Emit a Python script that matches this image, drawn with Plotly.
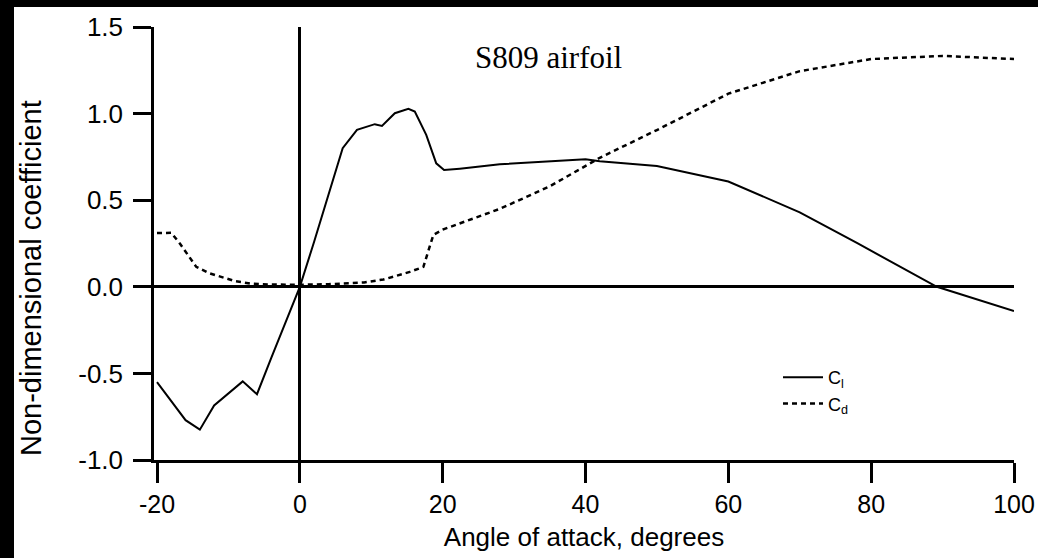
import plotly.graph_objects as go

# ---- data ----
alpha_cl = [-20, -16, -14, -12, -8, -6, -4, -2, 0, 2, 4, 6, 8, 10.5, 11.5, 13.3, 15.2, 16.1,
            17.7, 19.1, 20.2, 22.4, 28, 35, 40, 42, 50, 60, 70, 78, 89.2, 100]
cl = [-0.55, -0.77, -0.825, -0.685, -0.546, -0.62, -0.41, -0.2, 0.0, 0.26, 0.53, 0.80, 0.906,
      0.939, 0.929, 1.002, 1.027, 1.012, 0.877, 0.713, 0.674, 0.682, 0.707, 0.725, 0.736, 0.725,
      0.697, 0.608, 0.43, 0.253, 0.0, -0.14]

alpha_cd = [-20, -18, -16.8, -14.5, -12.6, -9, -7, -4, 0, 4, 9, 11.7, 15.4, 17.3, 18.7, 20, 22,
            28, 35, 42, 50, 60, 70, 80, 90, 100]
cd = [0.31, 0.312, 0.25, 0.115, 0.077, 0.032, 0.019, 0.013, 0.012, 0.015, 0.025, 0.042, 0.086,
      0.115, 0.30, 0.33, 0.36, 0.45, 0.58, 0.745, 0.905, 1.115, 1.245, 1.315, 1.333, 1.315]

x_ticks = [-20, 0, 20, 40, 60, 80, 100]
x_tick_labels = ["-20", "0", "20", "40", "60", "80", "100"]
y_ticks = [-1.0, -0.5, 0.0, 0.5, 1.0, 1.5]
y_tick_labels = ["-1.0", "-0.5", "0.0", "0.5", "1.0", "1.5"]

# ---- layout geometry ----
W, H = 1038, 558
L, R, T, B = 154, 24, 27, 98
PW, PH = W - L - R, H - T - B


def pxx(px):
    return (px - L) / PW


def pxy(py):
    return (H - B - py) / PH


SANS = "Liberation Sans, Arial, Helvetica, sans-serif"
SERIF = "Liberation Serif, Times New Roman, serif"

fig = go.Figure()
fig.add_trace(go.Scatter(x=alpha_cl, y=cl, mode="lines", name="C<sub>l</sub>",
                         line=dict(color="black", width=2)))
fig.add_trace(go.Scatter(x=alpha_cd, y=cd, mode="lines", name="C<sub>d</sub>",
                         line=dict(color="black", width=2.5, dash="5px,4px")))

axis_common = dict(showgrid=False, showline=True, linecolor="black", linewidth=2.5,
                   ticks="outside", tickcolor="black", tickwidth=2.5,
                   zeroline=True, zerolinecolor="black", zerolinewidth=2.5)

fig.update_layout(
    width=W, height=H,
    margin=dict(l=L, r=R, t=T, b=B, autoexpand=False),
    paper_bgcolor="white", plot_bgcolor="white",
    xaxis=dict(range=[-20.42, 100], tickvals=x_ticks, ticktext=x_tick_labels, ticklen=20,
               tickfont=dict(family=SANS, size=25, color="black"),
               title=dict(text="Angle of attack, degrees", standoff=12,
                          font=dict(family=SANS, size=26, color="black")),
               **axis_common),
    yaxis=dict(range=[-1.0, 1.5], tickvals=y_ticks, ticktext=y_tick_labels, ticklen=18,
               ticklabelstandoff=5,
               tickfont=dict(family=SANS, size=26, color="black"),
               **axis_common),
    showlegend=True,
    legend=dict(x=pxx(778), y=pxy(359), xanchor="left", yanchor="top",
                bgcolor="rgba(0,0,0,0)", font=dict(family=SANS, size=18, color="black"),
                itemwidth=40, tracegroupgap=0),
    annotations=[
        dict(text="S809 airfoil", xref="paper", yref="paper",
             x=pxx(548), y=pxy(57), xanchor="center", yanchor="middle",
             showarrow=False, font=dict(family=SERIF, size=31, color="black")),
        dict(text="Non-dimensional coefficient", xref="paper", yref="paper",
             x=pxx(31), y=pxy(278), xanchor="center", yanchor="middle", textangle=-90,
             showarrow=False, font=dict(family=SANS, size=29, color="black")),
    ],
    shapes=[
        dict(type="rect", xref="paper", yref="paper", x0=pxx(0), x1=pxx(W),
             y0=pxy(0), y1=pxy(7), fillcolor="black", line=dict(width=0), layer="above"),
        dict(type="path", xref="paper", yref="paper",
             path="M {a},{b} L {c},{b} L {c},{d} L {a},{d} Z".format(
                 a=pxx(0), b=pxy(0), c=pxx(14), d=pxy(H)),
             fillcolor="black", line=dict(width=0), layer="above"),
    ],
)

fig.write_html("out.html", config={"displayModeBar": False},
               post_script="document.body.style.margin='0';document.body.style.overflow='hidden';")
